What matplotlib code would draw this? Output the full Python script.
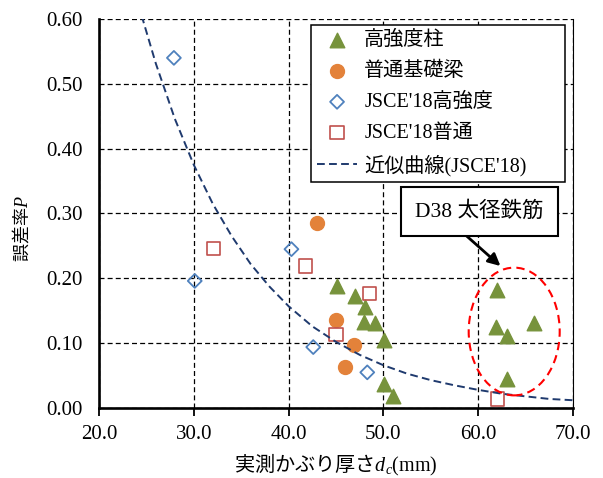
import matplotlib
matplotlib.use('Agg')
import matplotlib.pyplot as plt
from matplotlib.patches import Ellipse

plt.rcParams['font.family'] = ['Liberation Serif', 'Noto Sans CJK JP']
plt.rcParams['mathtext.fontset'] = 'custom'
plt.rcParams['mathtext.rm'] = 'Liberation Serif'
plt.rcParams['mathtext.it'] = 'Liberation Serif:italic'

# 高強度柱
hs_x = [45.1, 47.0, 48.1, 48.0, 49.1, 50.1, 50.1, 51.0, 62.0, 61.9, 63.0, 65.9, 63.0]
hs_y = [0.188, 0.173, 0.156, 0.132, 0.131, 0.105, 0.037, 0.018, 0.182, 0.125, 0.111, 0.131, 0.044]
# 普通基礎梁
nb_x = [43.0, 45.0, 46.9, 45.9]
nb_y = [0.285, 0.136, 0.097, 0.063]
# JSCE'18高強度
jh_x = [27.9, 30.1, 40.3, 42.6, 48.3]
jh_y = [0.540, 0.196, 0.245, 0.094, 0.055]
# JSCE'18普通
jn_x = [32.1, 41.75, 48.5, 45.0, 62.05]
jn_y = [0.246, 0.219, 0.176, 0.113, 0.014]
# 近似曲線(JSCE'18)
fit_x = [24.5, 26, 28, 30, 32, 34, 36, 38, 40, 42.5, 45, 47.5, 50, 52.5, 55, 57.5, 60, 62.5, 65, 67.5, 70]
fit_y = [0.605, 0.531, 0.446, 0.375, 0.315, 0.265, 0.222, 0.187, 0.157, 0.126, 0.102, 0.082,
         0.066, 0.053, 0.043, 0.035, 0.028, 0.022, 0.018, 0.014, 0.012]

fig = plt.figure(figsize=(6.03, 4.78), dpi=100)
ax = fig.add_axes([0.1642, 0.1464, 0.786, 0.8139])

ax.scatter(hs_x, hs_y, marker='^', s=110, color='#77933C', zorder=3, label='高強度柱')
ax.scatter(nb_x, nb_y, marker='o', s=100, color='#E3823A', zorder=3, label='普通基礎梁')
ax.scatter(jh_x, jh_y, marker='D', s=50, facecolors='none', edgecolors='#4F81BD',
           linewidths=1.3, zorder=3, label="JSCE'18高強度")
ax.scatter(jn_x, jn_y, marker='s', s=90, facecolors='none', edgecolors='#C0504D',
           linewidths=1.2, zorder=3, label="JSCE'18普通")
ax.plot(fit_x, fit_y, color='#1F3A6E', lw=1.4, linestyle=(0, (4, 2.2)), zorder=4,
        label="近似曲線(JSCE'18)")

ax.set_xlim(20, 70)
ax.set_ylim(0, 0.6)
ax.set_xticks([20, 30, 40, 50, 60, 70])
ax.set_yticks([0, 0.1, 0.2, 0.3, 0.4, 0.5, 0.6])
ax.set_xticklabels(['%.1f' % v for v in ax.get_xticks()])
ax.set_yticklabels(['%.2f' % v for v in ax.get_yticks()])
ax.tick_params(axis='x', direction='out', length=6, width=1.3, pad=6, labelsize=15)
ax.tick_params(axis='y', length=0, pad=12, labelsize=15)

ax.grid(True, color='black', lw=0.9, linestyle=(0, (4, 2.5)))
ax.set_axisbelow(True)
ax.spines['top'].set_visible(False)
ax.spines['left'].set_linewidth(1.9)
ax.spines['bottom'].set_linewidth(1.9)
ax.spines['right'].set_linewidth(0.8)

ax.set_xlabel('実測かぶり厚さ$d_c\\mathrm{(mm)}$', family='Noto Sans CJK JP', fontsize=14.5)
ax.xaxis.set_label_coords(0.5, -0.112)
ax.set_ylabel('誤差率$P$', family='Noto Sans CJK JP', fontsize=13)
ax.yaxis.set_label_coords(-0.143, 0.46)

leg = ax.legend(loc='upper left', bbox_to_anchor=(0.447, 0.6, 0.536, 0.385), mode='expand',
                borderaxespad=0, fontsize=14.5, handlelength=2.0, handletextpad=0.35,
                labelspacing=0.58, borderpad=0.3, fancybox=False, framealpha=1,
                edgecolor='black', scatterpoints=1)
leg.get_frame().set_linewidth(1.1)

ax.add_patch(Ellipse((63.8, 0.118), 9.6, 0.197, fill=False, edgecolor='#FF0000',
                     lw=1.5, linestyle=(0, (4, 2.5)), zorder=5))
ax.annotate('', xy=(62.35, 0.219), xytext=(58.65, 0.267),
            arrowprops=dict(arrowstyle='-|>', color='black', lw=2, mutation_scale=18,
                            shrinkA=0, shrinkB=0), zorder=6)
ax.text(60.13, 0.303, 'D38 太径鉄筋', fontsize=15.5, ha='center', va='center', zorder=7,
        bbox=dict(boxstyle='square,pad=0.65', facecolor='white', edgecolor='black', lw=1.5))

fig.savefig('out.png', dpi=100)
